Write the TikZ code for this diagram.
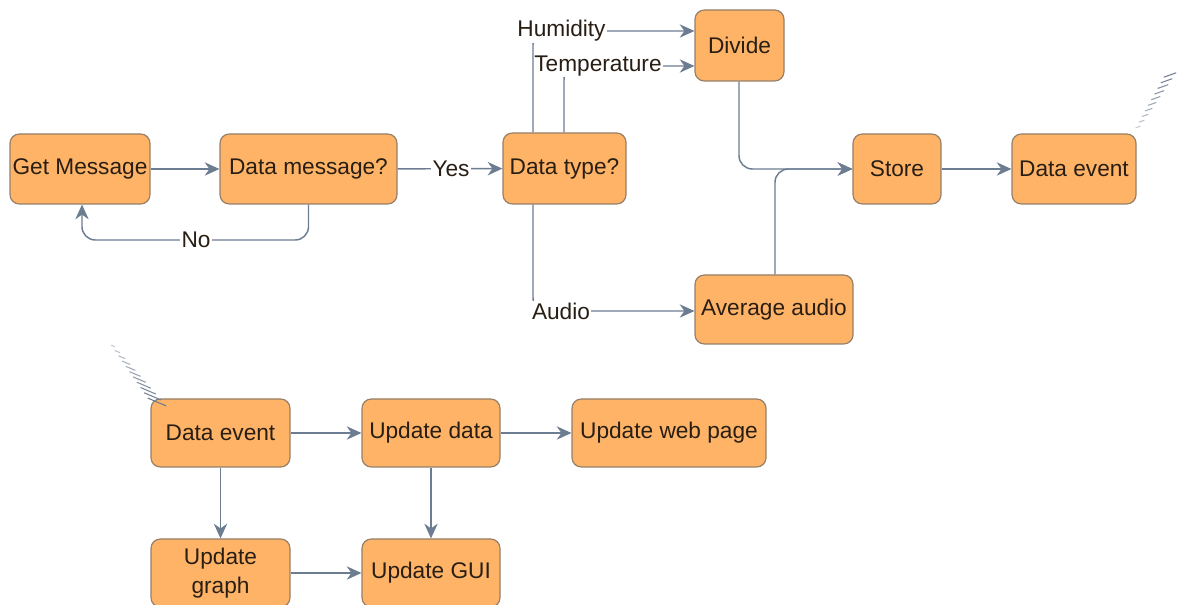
\documentclass[tikz,border=0pt]{standalone}
\usepackage{fontspec}
\setmainfont{Liberation Sans}
\usetikzlibrary{arrows.meta}
\definecolor{boxfill}{RGB}{255,179,102}
\definecolor{boxline}{RGB}{150,128,105}
\definecolor{edgec}{RGB}{108,124,145}
\definecolor{txt}{RGB}{40,30,20}
\begin{document}
\begin{tikzpicture}[x=0.75pt,y=-0.75pt, font=\fontsize{17}{19}\selectfont,
 box/.style={draw=boxline, fill=boxfill, rounded corners=7pt, line width=0.9pt, inner sep=0pt, text=txt, align=center},
 bw/.style={minimum width=#1*0.75pt},
 bh/.style={minimum height=#1*0.75pt},
 conn/.style={draw=edgec, line width=1.1pt, rounded corners=10pt, -{Stealth[length=11pt,width=10pt,inset=3.5pt]}},
 lbl/.style={fill=white, inner sep=1pt, text=txt},
 hatch/.style={draw=edgec, line width=0.8pt}]
\useasboundingbox (0,0) rectangle (1182,605);
\fill[white] (0,0) rectangle (1182,605);

% top row
\node[box,bw=140,bh=70] (get) at (80,169) {Get Message};
\node[box,bw=177,bh=70] (dmsg) at (308.5,169) {Data message?};
\node[box,bw=123,bh=71] (dtype) at (564.5,168.5) {Data type?};
\node[box,bw=89,bh=71] (div) at (739.5,45.5) {Divide};
\node[box,bw=88,bh=70] (store) at (897,169) {Store};
\node[box,bw=124,bh=70] (dev1) at (1074,169) {Data event};
\node[box,bw=158,bh=69] (avg) at (774,309.5) {Average audio};

% bottom group
\node[box,bw=139,bh=68] (dev2) at (220.5,433) {Data event};
\node[box,bw=138,bh=68] (upd) at (431,433) {Update data};
\node[box,bw=194,bh=68] (web) at (669,433) {Update web page};
\node[box,bw=139,bh=68,font=\fontsize{17}{22}\selectfont] (graph) at (220.5,573) {Update\\graph};
\node[box,bw=138,bh=68] (gui) at (431,573) {Update GUI};

% coordinates
\coordinate (noy) at (0,240);
\coordinate (nox) at (82,0);
\coordinate (hum) at (533,31);
\coordinate (tmp) at (564,66);
\coordinate (aud) at (533,311);
\coordinate (divx) at (739,0);
\coordinate (avgx) at (775,0);

% connectors top
\draw[conn] (get) -- (dmsg);
\draw[conn] (dmsg) -- (dtype);
\node[lbl] at (451,169) {Yes};
\draw[conn] (dmsg.south) -- (dmsg.south |- noy) -- (nox |- noy) -- (nox |- get.south);
\node[lbl] at (196,240) {No};

\draw[conn] (tmp |- dtype.north) -- (tmp) -- (div.west |- tmp);
\node[lbl] at (598,66) {Temperature};
\draw[conn] (hum |- dtype.north) -- (hum) -- (div.west |- hum);
\node[lbl] at (561.5,31) {Humidity};
\draw[conn] (aud |- dtype.south) -- (aud) -- (avg.west |- aud);
\node[lbl] at (561,311) {Audio};

\draw[conn] (divx |- div.south) -- (divx |- store.west) -- (store.west);
\draw[conn] (avgx |- avg.north) -- (avgx |- store.west) -- (store.west);
\draw[conn] (store) -- (dev1);

% connectors bottom
\draw[conn] (dev2) -- (upd);
\draw[conn] (upd) -- (web);
\draw[conn] (dev2) -- (graph);
\draw[conn] (upd) -- (gui);
\draw[conn] (graph) -- (gui);

% hatch marks
\foreach \i in {0,...,9}{
  \pgfmathsetmacro{\px}{1138+\i*32/9}
  \pgfmathsetmacro{\py}{127-\i*52/9}
  \pgfmathsetmacro{\hl}{2.5+\i*0.45}
  \pgfmathsetmacro{\op}{0.4+\i*0.065}
  \draw[hatch,opacity=\op] (\px-0.94*\hl,\py+0.34*\hl) -- (\px+0.94*\hl,\py-0.34*\hl);
}
\foreach \i in {0,...,10}{
  \pgfmathsetmacro{\px}{113+\i*44/10}
  \pgfmathsetmacro{\py}{346+\i*56/10}
  \pgfmathsetmacro{\hl}{2+\i*0.8}
  \pgfmathsetmacro{\op}{0.4+\i*0.06}
  \draw[hatch,opacity=\op] (\px-0.92*\hl,\py-0.39*\hl) -- (\px+0.92*\hl,\py+0.39*\hl);
}
\end{tikzpicture}
\end{document}
